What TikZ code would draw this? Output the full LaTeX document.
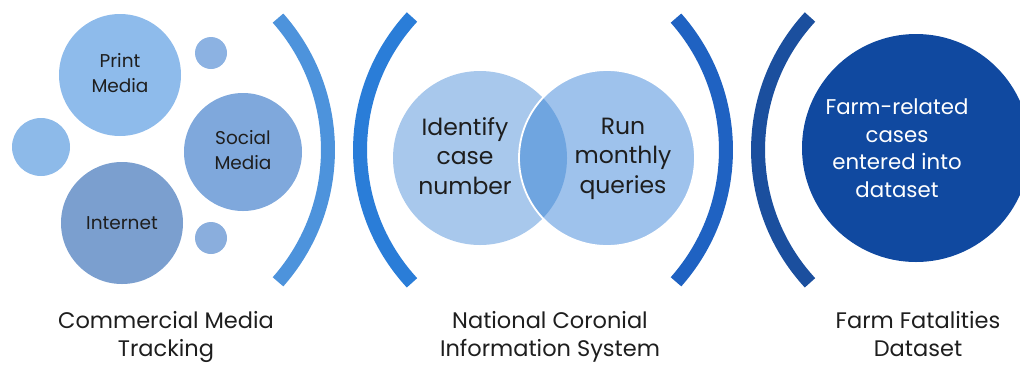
\documentclass[tikz,border=0pt]{standalone}
\usepackage{fontspec}
\setmainfont{Poppins}
\definecolor{txt}{HTML}{1E1E1E}
\definecolor{cPrint}{HTML}{8EBBEB}
\definecolor{cSmallA}{HTML}{8CB2E2}
\definecolor{cSmallB}{HTML}{8DBAE9}
\definecolor{cSocial}{HTML}{7FA8DC}
\definecolor{cInternet}{HTML}{7B9FCF}
\definecolor{cSmallC}{HTML}{8AAEDD}
\definecolor{cArcA}{HTML}{4D93DC}
\definecolor{cArcB}{HTML}{2A7DD8}
\definecolor{cIdent}{HTML}{A8C8EC}
\definecolor{cRun}{HTML}{9EC2EC}
\definecolor{cOver}{HTML}{6FA5E0}
\definecolor{cArcC}{HTML}{1F62C2}
\definecolor{cArcD}{HTML}{1B4F9E}
\definecolor{cBig}{HTML}{1049A0}
\begin{document}
\begin{tikzpicture}[x=1pt,y=-1pt,
  bub/.style={circle, inner sep=0pt, align=center, text=txt},
  smallfont/.style={font=\fontsize{18.5}{25}\selectfont},
  midfont/.style={font=\fontsize{23.5}{29.5}\selectfont},
  txtnode/.style={align=center, text=txt, inner sep=0pt},
  paren/.style={line width=14pt},
  lbl/.style={align=center, text=txt, inner sep=0pt, font=\fontsize{22.5}{28}\selectfont}]
\useasboundingbox (0,0) rectangle (1020,365);
\clip (0,0) rectangle (1020,365);
% left group
\node[bub, fill=cPrint, minimum size=122pt, smallfont] (print) at (120,75) {\strut Print\\\strut Media};
\node[bub, fill=cSmallA, minimum size=32pt] (s1) at (211,53) {};
\node[bub, fill=cSmallB, minimum size=58pt] (s2) at (41,147) {};
\node[bub, fill=cSocial, minimum size=118pt, smallfont] (social) at (243,152) {\strut Social\\\strut Media};
\node[bub, fill=cInternet, minimum size=122pt, smallfont] (internet) at (122,223) {Internet};
\node[bub, fill=cSmallC, minimum size=32pt] (s3) at (211,238) {};
\draw[paren, cArcA] (278,18.1) arc[start angle=41.5, end angle=-41.5, radius=199pt];
% middle group
\draw[paren, cArcB] (412,17) arc[start angle=137.3, end angle=222.7, radius=196pt];
\node[bub, fill=cIdent, minimum size=174pt] (ident) at (480,158) {};
\node[bub, fill=cRun, minimum size=176pt] (run) at (607,158) {};
\begin{scope}
  \clip (ident.center) circle[radius=87pt];
  \fill[cOver] (run.center) circle[radius=88pt];
\end{scope}
\draw[white, line width=1.8pt] (run.center) circle[radius=88pt];
\node[txtnode, midfont] (identt) at (465,159) {\strut Identify\\\strut case\\\strut number};
\node[txtnode, midfont] (runt) at (623,158) {\strut Run\\\strut monthly\\\strut queries};
\draw[paren, cArcC] (676,18.1) arc[start angle=41.5, end angle=-41.5, radius=199pt];
% right group
\draw[paren, cArcD] (810,17) arc[start angle=137.3, end angle=222.7, radius=196pt];
\node[bub, fill=cBig, minimum size=228pt] (farm) at (916,148) {};
\node[txtnode, text=white, font=\fontsize{21.3}{27.5}\selectfont] (farmt) at (897,150.5) {\strut Farm-related\\\strut cases\\\strut entered into\\\strut dataset};
% labels
\node[lbl] (l1) at (166,337) {\strut Commercial Media\\\strut Tracking};
\node[lbl] (l2) at (550,337) {\strut National Coronial\\\strut Information System};
\node[lbl] (l3) at (918,337) {\strut Farm Fatalities\\\strut Dataset};
\end{tikzpicture}
\end{document}
